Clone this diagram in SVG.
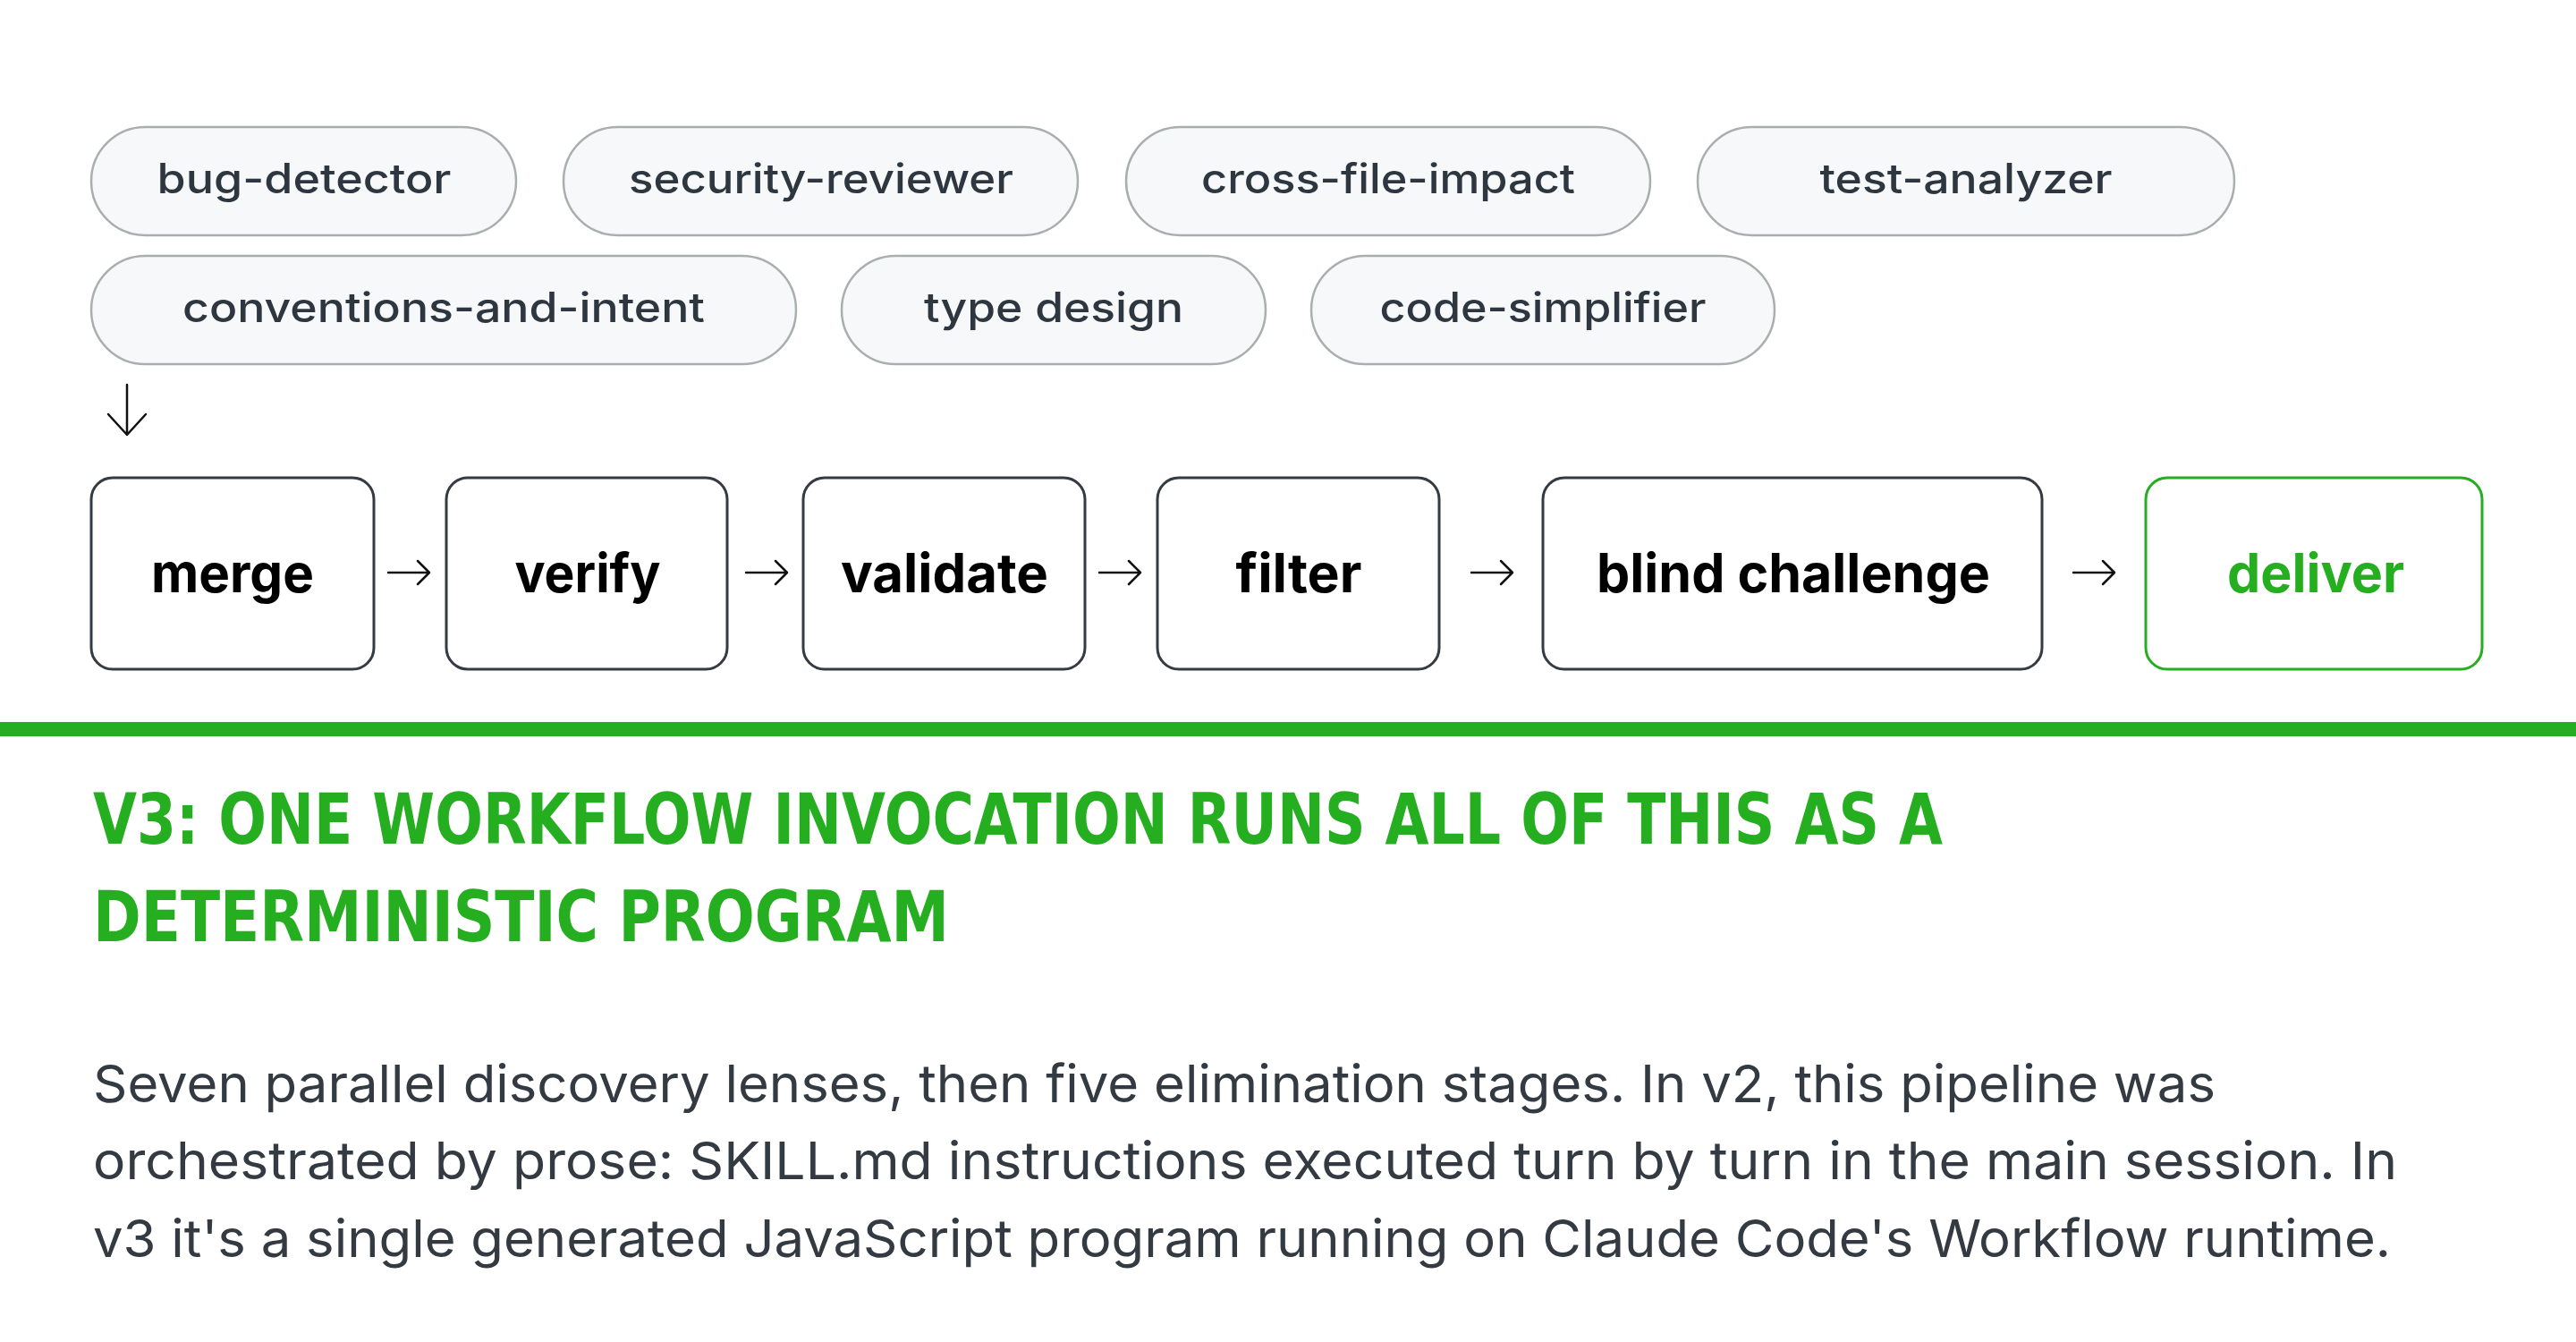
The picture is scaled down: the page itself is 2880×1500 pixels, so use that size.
<svg xmlns="http://www.w3.org/2000/svg" width="2880" height="1500" viewBox="0 0 2880 1500">
<defs>
<style>
.pill rect{fill:#f6f8f9;stroke:#a9afad;stroke-width:2.5}
.pill text{font-family:Inter,"Noto Sans",sans-serif;font-weight:500;font-size:46px;fill:#2e3640;text-anchor:middle}
.box rect{fill:#fff;stroke:#353b42;stroke-width:3}
.box text{font-family:Inter,"Noto Sans",sans-serif;font-weight:700;font-size:60px;fill:#000;text-anchor:middle}
.box.green rect{stroke:#25ae1f}
.box.green text{fill:#25ae1f}
.conn path{fill:none;stroke:#111;stroke-width:2.5;stroke-linecap:round;stroke-linejoin:round}
.head{font-family:"Liberation Sans Narrow","DejaVu Sans Condensed",Inter,sans-serif;font-weight:700;font-size:78px;fill:#25ae1f}
.body{font-family:Inter,"Noto Sans",sans-serif;font-weight:400;font-size:58px;fill:#333a42}
</style>
</defs>
<rect width="2880" height="1500" fill="#fff"/>
<g id="lens-bug-detector" class="pill"><rect x="102" y="142" width="475" height="121" rx="60.5"/><text x="340" y="216" textLength="329" lengthAdjust="spacingAndGlyphs">bug-detector</text></g>
<g id="lens-security-reviewer" class="pill"><rect x="630" y="142" width="575" height="121" rx="60.5"/><text x="918" y="216" textLength="430" lengthAdjust="spacingAndGlyphs">security-reviewer</text></g>
<g id="lens-cross-file-impact" class="pill"><rect x="1259" y="142" width="586" height="121" rx="60.5"/><text x="1552" y="216" textLength="418" lengthAdjust="spacingAndGlyphs">cross-file-impact</text></g>
<g id="lens-test-analyzer" class="pill"><rect x="1898" y="142" width="600" height="121" rx="60.5"/><text x="2198" y="216" textLength="327" lengthAdjust="spacingAndGlyphs">test-analyzer</text></g>
<g id="lens-conventions-and-intent" class="pill"><rect x="102" y="286" width="788" height="121" rx="60.5"/><text x="496" y="360" textLength="584" lengthAdjust="spacingAndGlyphs">conventions-and-intent</text></g>
<g id="lens-type-design" class="pill"><rect x="941" y="286" width="474" height="121" rx="60.5"/><text x="1178" y="360" textLength="290" lengthAdjust="spacingAndGlyphs">type design</text></g>
<g id="lens-code-simplifier" class="pill"><rect x="1466" y="286" width="518" height="121" rx="60.5"/><text x="1725" y="360" textLength="365" lengthAdjust="spacingAndGlyphs">code-simplifier</text></g>
<g id="stage-merge" class="box"><rect x="102" y="534" width="316" height="214" rx="24"/><text x="260" y="662" textLength="182" lengthAdjust="spacingAndGlyphs">merge</text></g>
<g id="stage-verify" class="box"><rect x="499" y="534" width="314" height="214" rx="24"/><text x="657" y="662" textLength="163" lengthAdjust="spacingAndGlyphs">verify</text></g>
<g id="stage-validate" class="box"><rect x="898" y="534" width="315" height="214" rx="24"/><text x="1056" y="662" textLength="232" lengthAdjust="spacingAndGlyphs">validate</text></g>
<g id="stage-filter" class="box"><rect x="1294" y="534" width="315" height="214" rx="24"/><text x="1452" y="662" textLength="141" lengthAdjust="spacingAndGlyphs">filter</text></g>
<g id="stage-blind-challenge" class="box"><rect x="1725" y="534" width="558" height="214" rx="24"/><text x="2005" y="662" textLength="440" lengthAdjust="spacingAndGlyphs">blind challenge</text></g>
<g id="stage-deliver" class="box green"><rect x="2399" y="534" width="376" height="214" rx="24"/><text x="2589" y="662" textLength="198" lengthAdjust="spacingAndGlyphs">deliver</text></g>
<g id="connectors" class="conn">
<path d="M142 430V486M121 463L142 486L163 463"/>
<path d="M434 640H480M467 627L480 640L467 653"/>
<path d="M834 640H880M867 627L880 640L867 653"/>
<path d="M1229 640H1275M1262 627L1275 640L1262 653"/>
<path d="M1645 640H1691M1678 627L1691 640L1678 653"/>
<path d="M2318 640H2364M2351 627L2364 640L2351 653"/>
</g>
<rect x="0" y="807" width="2880" height="16" fill="#25ae1f"/>
<text class="head" x="104" y="943" textLength="2068" lengthAdjust="spacingAndGlyphs">V3: ONE WORKFLOW INVOCATION RUNS ALL OF THIS AS A</text>
<text class="head" x="104" y="1052" textLength="957" lengthAdjust="spacingAndGlyphs">DETERMINISTIC PROGRAM</text>
<text class="body" x="104" y="1232" textLength="2373" lengthAdjust="spacingAndGlyphs">Seven parallel discovery lenses, then five elimination stages. In v2, this pipeline was</text>
<text class="body" x="104" y="1318" textLength="2576" lengthAdjust="spacingAndGlyphs">orchestrated by prose: SKILL.md instructions executed turn by turn in the main session. In</text>
<text class="body" x="104" y="1405" textLength="2569" lengthAdjust="spacingAndGlyphs">v3 it's a single generated JavaScript program running on Claude Code's Workflow runtime.</text>
</svg>
